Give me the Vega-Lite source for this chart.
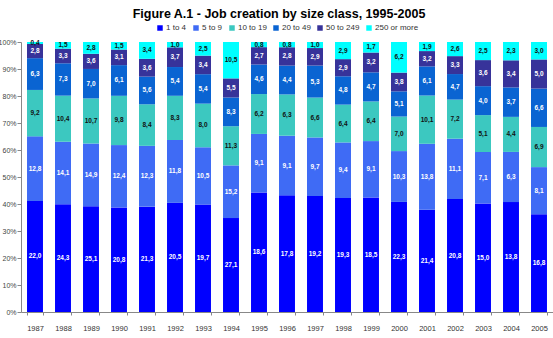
{
"$schema": "https://vega.github.io/schema/vega-lite/v6.json",
"width": 532, "height": 270,
"autosize": {"type": "none"},
"padding": {"left": 21, "top": 42, "right": 0, "bottom": 26},
"background": "white",
"title": {"text": "Figure A.1 - Job creation by size class, 1995-2005", "fontSize": 12.5, "font": "Liberation Sans", "fontWeight": "bold", "color": "black", "offset": 4, "dx": -8},
"datasets": {"d": [
{"year":1987,"size":"1 to 4","k":1,"v":22.0},{"year":1987,"size":"5 to 9","k":2,"v":12.8},{"year":1987,"size":"10 to 19","k":3,"v":9.2},{"year":1987,"size":"20 to 49","k":4,"v":6.3},{"year":1987,"size":"50 to 249","k":5,"v":2.8},{"year":1987,"size":"250 or more","k":6,"v":0.4},
{"year":1988,"size":"1 to 4","k":1,"v":24.3},{"year":1988,"size":"5 to 9","k":2,"v":14.1},{"year":1988,"size":"10 to 19","k":3,"v":10.4},{"year":1988,"size":"20 to 49","k":4,"v":7.3},{"year":1988,"size":"50 to 249","k":5,"v":3.3},{"year":1988,"size":"250 or more","k":6,"v":1.5},
{"year":1989,"size":"1 to 4","k":1,"v":25.1},{"year":1989,"size":"5 to 9","k":2,"v":14.9},{"year":1989,"size":"10 to 19","k":3,"v":10.7},{"year":1989,"size":"20 to 49","k":4,"v":7.0},{"year":1989,"size":"50 to 249","k":5,"v":3.6},{"year":1989,"size":"250 or more","k":6,"v":2.8},
{"year":1990,"size":"1 to 4","k":1,"v":20.8},{"year":1990,"size":"5 to 9","k":2,"v":12.4},{"year":1990,"size":"10 to 19","k":3,"v":9.8},{"year":1990,"size":"20 to 49","k":4,"v":6.1},{"year":1990,"size":"50 to 249","k":5,"v":3.1},{"year":1990,"size":"250 or more","k":6,"v":1.5},
{"year":1991,"size":"1 to 4","k":1,"v":21.3},{"year":1991,"size":"5 to 9","k":2,"v":12.3},{"year":1991,"size":"10 to 19","k":3,"v":8.4},{"year":1991,"size":"20 to 49","k":4,"v":5.6},{"year":1991,"size":"50 to 249","k":5,"v":3.6},{"year":1991,"size":"250 or more","k":6,"v":3.4},
{"year":1992,"size":"1 to 4","k":1,"v":20.5},{"year":1992,"size":"5 to 9","k":2,"v":11.8},{"year":1992,"size":"10 to 19","k":3,"v":8.3},{"year":1992,"size":"20 to 49","k":4,"v":5.4},{"year":1992,"size":"50 to 249","k":5,"v":3.7},{"year":1992,"size":"250 or more","k":6,"v":1.0},
{"year":1993,"size":"1 to 4","k":1,"v":19.7},{"year":1993,"size":"5 to 9","k":2,"v":10.5},{"year":1993,"size":"10 to 19","k":3,"v":8.0},{"year":1993,"size":"20 to 49","k":4,"v":5.4},{"year":1993,"size":"50 to 249","k":5,"v":3.4},{"year":1993,"size":"250 or more","k":6,"v":2.5},
{"year":1994,"size":"1 to 4","k":1,"v":27.1},{"year":1994,"size":"5 to 9","k":2,"v":15.2},{"year":1994,"size":"10 to 19","k":3,"v":11.3},{"year":1994,"size":"20 to 49","k":4,"v":8.3},{"year":1994,"size":"50 to 249","k":5,"v":5.5},{"year":1994,"size":"250 or more","k":6,"v":10.5},
{"year":1995,"size":"1 to 4","k":1,"v":18.6},{"year":1995,"size":"5 to 9","k":2,"v":9.1},{"year":1995,"size":"10 to 19","k":3,"v":6.2},{"year":1995,"size":"20 to 49","k":4,"v":4.6},{"year":1995,"size":"50 to 249","k":5,"v":2.7},{"year":1995,"size":"250 or more","k":6,"v":0.8},
{"year":1996,"size":"1 to 4","k":1,"v":17.8},{"year":1996,"size":"5 to 9","k":2,"v":9.1},{"year":1996,"size":"10 to 19","k":3,"v":6.3},{"year":1996,"size":"20 to 49","k":4,"v":4.4},{"year":1996,"size":"50 to 249","k":5,"v":2.8},{"year":1996,"size":"250 or more","k":6,"v":0.8},
{"year":1997,"size":"1 to 4","k":1,"v":19.2},{"year":1997,"size":"5 to 9","k":2,"v":9.7},{"year":1997,"size":"10 to 19","k":3,"v":6.6},{"year":1997,"size":"20 to 49","k":4,"v":5.3},{"year":1997,"size":"50 to 249","k":5,"v":2.9},{"year":1997,"size":"250 or more","k":6,"v":1.0},
{"year":1998,"size":"1 to 4","k":1,"v":19.3},{"year":1998,"size":"5 to 9","k":2,"v":9.4},{"year":1998,"size":"10 to 19","k":3,"v":6.4},{"year":1998,"size":"20 to 49","k":4,"v":4.8},{"year":1998,"size":"50 to 249","k":5,"v":2.9},{"year":1998,"size":"250 or more","k":6,"v":2.9},
{"year":1999,"size":"1 to 4","k":1,"v":18.5},{"year":1999,"size":"5 to 9","k":2,"v":9.1},{"year":1999,"size":"10 to 19","k":3,"v":6.4},{"year":1999,"size":"20 to 49","k":4,"v":4.7},{"year":1999,"size":"50 to 249","k":5,"v":3.2},{"year":1999,"size":"250 or more","k":6,"v":1.7},
{"year":2000,"size":"1 to 4","k":1,"v":22.3},{"year":2000,"size":"5 to 9","k":2,"v":10.3},{"year":2000,"size":"10 to 19","k":3,"v":7.0},{"year":2000,"size":"20 to 49","k":4,"v":5.1},{"year":2000,"size":"50 to 249","k":5,"v":3.8},{"year":2000,"size":"250 or more","k":6,"v":6.2},
{"year":2001,"size":"1 to 4","k":1,"v":21.4},{"year":2001,"size":"5 to 9","k":2,"v":13.8},{"year":2001,"size":"10 to 19","k":3,"v":10.1},{"year":2001,"size":"20 to 49","k":4,"v":6.1},{"year":2001,"size":"50 to 249","k":5,"v":3.2},{"year":2001,"size":"250 or more","k":6,"v":1.9},
{"year":2002,"size":"1 to 4","k":1,"v":20.8},{"year":2002,"size":"5 to 9","k":2,"v":11.1},{"year":2002,"size":"10 to 19","k":3,"v":7.2},{"year":2002,"size":"20 to 49","k":4,"v":4.7},{"year":2002,"size":"50 to 249","k":5,"v":3.3},{"year":2002,"size":"250 or more","k":6,"v":2.6},
{"year":2003,"size":"1 to 4","k":1,"v":15.0},{"year":2003,"size":"5 to 9","k":2,"v":7.1},{"year":2003,"size":"10 to 19","k":3,"v":5.1},{"year":2003,"size":"20 to 49","k":4,"v":4.0},{"year":2003,"size":"50 to 249","k":5,"v":3.6},{"year":2003,"size":"250 or more","k":6,"v":2.5},
{"year":2004,"size":"1 to 4","k":1,"v":13.8},{"year":2004,"size":"5 to 9","k":2,"v":6.3},{"year":2004,"size":"10 to 19","k":3,"v":4.4},{"year":2004,"size":"20 to 49","k":4,"v":3.7},{"year":2004,"size":"50 to 249","k":5,"v":3.4},{"year":2004,"size":"250 or more","k":6,"v":2.3},
{"year":2005,"size":"1 to 4","k":1,"v":16.8},{"year":2005,"size":"5 to 9","k":2,"v":8.1},{"year":2005,"size":"10 to 19","k":3,"v":6.9},{"year":2005,"size":"20 to 49","k":4,"v":6.6},{"year":2005,"size":"50 to 249","k":5,"v":5.0},{"year":2005,"size":"250 or more","k":6,"v":3.0}
]},
"data": {"name": "d"},
"transform": [
  {"stack": "v", "groupby": ["year"], "sort": [{"field": "k", "order": "ascending"}], "offset": "normalize", "as": ["y0", "y1"]},
  {"calculate": "(datum.y0 + datum.y1) / 2", "as": "ym"}
],
"encoding": {
  "x": {"field": "year", "type": "ordinal", "title": null,
    "scale": {"paddingInner": 0.43, "paddingOuter": 0.215},
    "axis": {"labelAngle": 0, "labelFontSize": 7.5, "labelFont": "Liberation Sans", "labelColor": "#333", "tickBand": "extent", "tickSize": 3, "tickColor": "#888", "domainColor": "#888", "labelPadding": 9}}
},
"layer": [
  {"mark": {"type": "bar"},
   "encoding": {
     "y": {"field": "y0", "type": "quantitative", "title": null, "scale": {"domain": [0, 1]},
       "axis": {"format": ".0%", "values": [0,0.1,0.2,0.3,0.4,0.5,0.6,0.7,0.8,0.9,1], "grid": false, "labelFontSize": 7, "labelFont": "Liberation Sans", "labelColor": "#444", "tickSize": 4, "tickColor": "#888", "domainColor": "#888", "labelPadding": 1, "labelOverlap": false}},
     "y2": {"field": "y1"},
     "color": {"field": "size", "type": "nominal",
       "scale": {"domain": ["1 to 4","5 to 9","10 to 19","20 to 49","50 to 249","250 or more"], "range": ["#0000FF","#3F6BF5","#3CC8C0","#0A64D2","#37339A","#00FFFF"]},
       "legend": {"orient": "none", "legendX": 135, "legendY": -18, "direction": "horizontal", "title": null, "symbolType": "square", "symbolSize": 30, "symbolStrokeWidth": 0, "labelFontSize": 8, "labelFont": "Liberation Sans", "labelColor": "#333", "columnPadding": 5, "labelOffset": 2}},
     "order": {"field": "k"}
   }},
  {"mark": {"type": "text", "fontSize": 6.5, "fontWeight": "bold", "font": "Liberation Sans"},
   "encoding": {
     "y": {"field": "ym", "type": "quantitative", "title": null,
       "axis": {"format": ".0%", "values": [0,0.1,0.2,0.3,0.4,0.5,0.6,0.7,0.8,0.9,1], "grid": false, "labelFontSize": 7, "labelFont": "Liberation Sans", "labelColor": "#444", "tickSize": 4, "tickColor": "#888", "domainColor": "#888", "labelPadding": 1, "labelOverlap": false}},
     "text": {"field": "v", "type": "quantitative", "format": ".1f"},
     "color": {"condition": {"test": "datum.size === '10 to 19' || datum.size === '250 or more'", "value": "#111"}, "value": "white"}
   }}
],
"config": {
  "locale": {"number": {"decimal": ",", "thousands": ".", "grouping": [3], "currency": ["", "€"]}},
  "view": {"stroke": null}
}
}
